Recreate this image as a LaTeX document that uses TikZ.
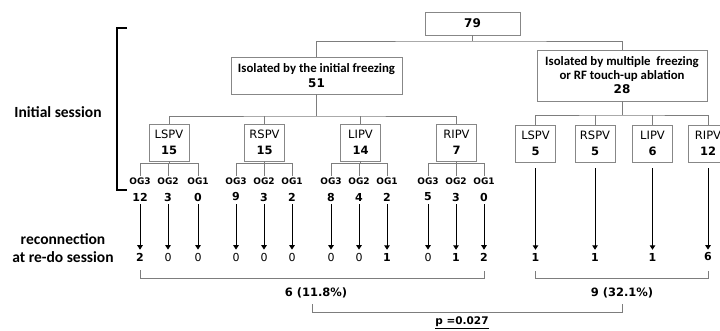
\documentclass[tikz,border=0pt]{standalone}
\usepackage{fontspec}
\setmainfont{Carlito}
\newfontfamily\dvfont{DejaVu Sans}
\usetikzlibrary{arrows.meta}
\definecolor{linegray}{RGB}{125,125,125}
\definecolor{boxgray}{RGB}{135,135,135}
\tikzset{
  box/.style={draw=boxgray,line width=0.9pt,align=center,inner sep=2pt},
  pvbox/.style={box,minimum width=40pt,minimum height=37pt,
    font=\dvfont\fontsize{11.5}{16}\selectfont},
  tree/.style={draw=linegray,line width=0.9pt},
  oglab/.style={font=\dvfont\bfseries\fontsize{9}{10}\selectfont,inner sep=1pt},
  cnt/.style={font=\dvfont\bfseries\fontsize{11}{12}\selectfont,inner sep=3pt},
  redo/.style={font=\dvfont\fontsize{11}{12}\selectfont,inner sep=3pt},
  arr/.style={-{Triangle[length=4.5pt,width=5.5pt]},line width=1pt},
  side/.style={font=\bfseries\fontsize{15.5}{18}\selectfont,align=center},
  total/.style={font=\dvfont\bfseries\fontsize{11.5}{13}\selectfont,inner sep=2pt},
}
\begin{document}
\begin{tikzpicture}[x=1pt,y=-1pt]
  \useasboundingbox (0,0) rectangle (720,331);
  % first levels
  \node[box,minimum width=95pt,minimum height=23pt,
    font=\dvfont\bfseries\fontsize{12}{13}\selectfont] (all) at (472.5,23.5) {79};
  \node[box,minimum width=171pt,minimum height=37pt,
    font=\bfseries\fontsize{12.8}{14}\selectfont] (first) at (316.5,75.5)
    {Isolated by the initial freezing\\[1pt]{\dvfont\fontsize{12}{13}\selectfont 51}};
  \node[box,minimum width=170pt,minimum height=51pt,
    font=\bfseries\fontsize{12.8}{13.5}\selectfont] (multi) at (622,75.5)
    {Isolated by multiple~ freezing\\or RF touch-up ablation\\[1pt]{\dvfont\fontsize{12}{13}\selectfont 28}};
  \coordinate (jAll) at (472.5,41);
  \draw[tree] (all.south) -- (jAll);
  \draw[tree] (first.north) |- (jAll) -| (multi.north);
  % pulmonary veins
  \foreach \nm/\lab/\num/\x in {lspvA/LSPV/15/169, rspvA/RSPV/15/264.5,
      lipvA/LIPV/14/360.5, ripvA/RIPV/7/456.5}
    \node[pvbox] (\nm) at (\x,142.5) {\lab\\\textbf{\num}};
  \foreach \nm/\lab/\num/\x in {lspvB/LSPV/5/535.5, rspvB/RSPV/5/595,
      lipvB/LIPV/6/652.5, ripvB/RIPV/12/708}
    \node[pvbox] (\nm) at (\x,143.5) {\lab\\\textbf{\num}};
  \coordinate (jFirst) at (316.5,116);
  \draw[tree] (first.south) -- (jFirst);
  \draw[tree] (lspvA.north) |- (jFirst) -| (ripvA.north);
  \draw[tree] (rspvA.north) -- (rspvA.north |- jFirst);
  \draw[tree] (lipvA.north) -- (lipvA.north |- jFirst);
  \coordinate (jMulti) at (622,115);
  \draw[tree] (multi.south) -- (jMulti);
  \draw[tree] (lspvB.north) |- (jMulti) -| (ripvB.north);
  \draw[tree] (rspvB.north) -- (rspvB.north |- jMulti);
  \draw[tree] (lipvB.north) -- (lipvB.north |- jMulti);
  % ostial grades
  \foreach \nm in {lspvA,rspvA,lipvA,ripvA}{
    \coordinate (\nm j) at ([yshift=-2pt]\nm.south);
    \draw[tree] (\nm.south) -- (\nm j);
  }
  \foreach \x/\b/\g/\n/\r [count=\i] in {
      140/lspvA/OG3/12/\textbf{2}, 168/lspvA/OG2/3/0, 198/lspvA/OG1/0/0,
      236/rspvA/OG3/9/0, 264/rspvA/OG2/3/0, 292/rspvA/OG1/2/0,
      331/lipvA/OG3/8/0, 359/lipvA/OG2/4/0, 387/lipvA/OG1/2/\textbf{1},
      428/ripvA/OG3/5/0, 456/ripvA/OG2/3/\textbf{1}, 484/ripvA/OG1/0/\textbf{2}}{
    \node[oglab] (og\i) at (\x,181) {\g};
    \node[cnt] (c\i) at (\x,197) {\n};
    \node[redo] (r\i) at (\x,257) {\r};
    \draw[tree] (\b j) -| (og\i.north);
    \draw[arr] (c\i) -- (r\i);
  }
  \foreach \b/\n [count=\i from 13] in {lspvB/1, rspvB/1, lipvB/1, ripvB/6}{
    \node[cnt] (r\i) at (\b.south |- 0,257) {\n};
    \draw[arr,shorten <=6pt] (\b) -- (r\i);
  }
  % totals
  \draw[tree] ([yshift=-6pt]r1.south) |- ([yshift=-14.5pt]r12.south) -- ([yshift=-7pt]r12.south);
  \draw[tree] ([yshift=-7pt]r13.south) |- ([yshift=-14.5pt]r16.south) -- ([yshift=-7pt]r16.south);
  \node[total] (sumA) at (316,293) {6 (11.8\%)};
  \node[total] (sumB) at (622,293) {9 (32.1\%)};
  \draw[tree] ([xshift=-4pt,yshift=-4pt]sumA.south) |- ([yshift=-12pt]sumB.south) -- ([yshift=-4pt]sumB.south);
  \node[font=\dvfont\bfseries\fontsize{10.5}{12}\selectfont] (pval) at (462,323) {\underline{p =0.027}};
  % session labels
  \draw[line width=1.8pt] (127,28) -- (117,28) -- (117,190) -- (127,190);
  \node[side] (initial) at (58,112) {Initial session};
  \node[side] (redolab) at (63,248) {reconnection\\at re-do session};
\end{tikzpicture}
\end{document}
